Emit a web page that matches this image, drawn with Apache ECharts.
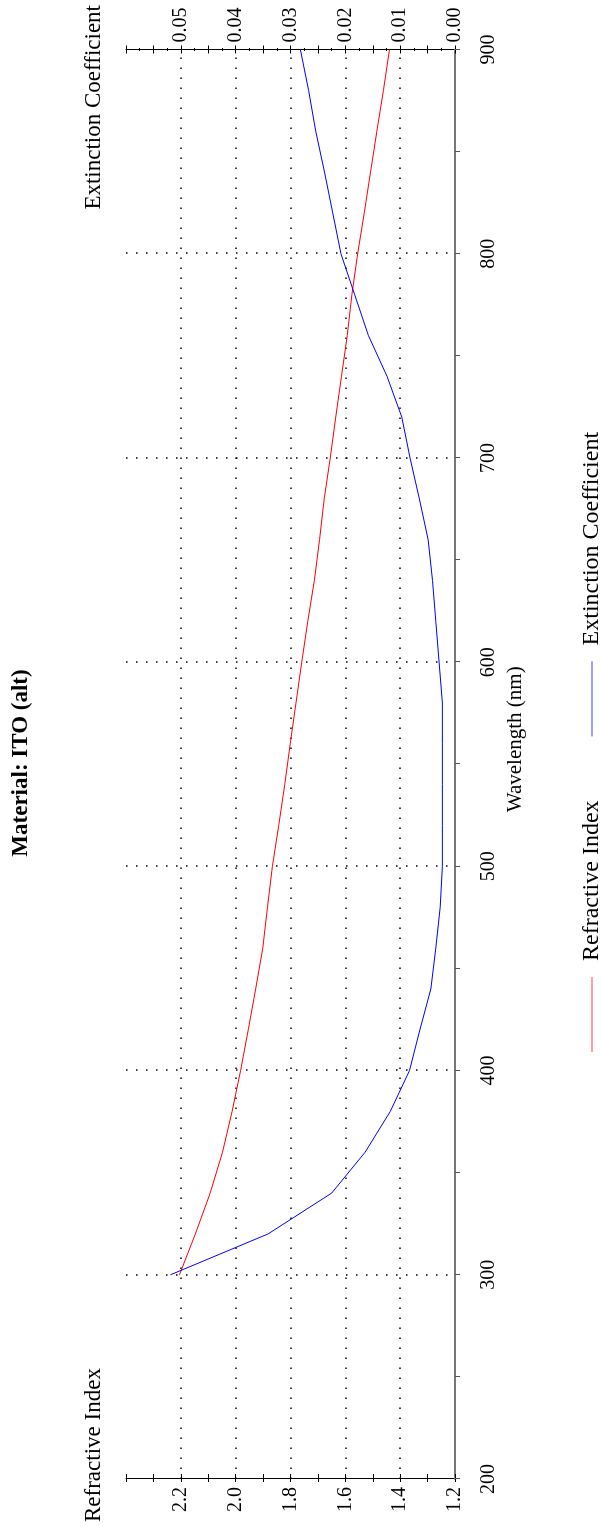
<!DOCTYPE html>
<html>
<head>
<meta charset="utf-8">
<script src="https://cdn.jsdelivr.net/npm/echarts@6/dist/echarts.min.js"></script>
<style>
  html, body { margin: 0; padding: 0; background: #fff; overflow: hidden; }
  #wrap { position: absolute; left: 0; top: 0; width: 601px; height: 1526px; overflow: hidden; }
  #chart { position: absolute; left: 0; top: 0; width: 1526px; height: 601px;
           transform-origin: 0 0; transform: rotate(-90deg) translateX(-1526px); }
</style>
</head>
<body>
<div id="wrap"><div id="chart"></div></div>
<script>
// ---- data ----
const wavelengths = [300, 320, 340, 360, 380, 400, 420, 440, 460, 480, 500, 520, 540, 560, 580,
                     600, 620, 640, 660, 680, 700, 720, 740, 760, 780, 800, 820, 840, 860, 880, 900];
const refractiveIndex = [2.205, 2.147, 2.093, 2.048, 2.013, 1.982, 1.954, 1.927, 1.901, 1.884, 1.866,
                         1.843, 1.821, 1.801, 1.780, 1.759, 1.737, 1.713, 1.694, 1.677, 1.655, 1.635,
                         1.614, 1.593, 1.576, 1.555, 1.531, 1.508, 1.485, 1.461, 1.439];
const extinctionCoeff = [0.0519, 0.0341, 0.0225, 0.0164, 0.0118, 0.0083, 0.0064, 0.0044, 0.0035, 0.0027,
                         0.0023, 0.0023, 0.0023, 0.0023, 0.0023, 0.0029, 0.0035, 0.0041, 0.0049, 0.0065,
                         0.0082, 0.0097, 0.0124, 0.0158, 0.0183, 0.0208, 0.0223, 0.0238, 0.0254, 0.0267, 0.0282];
const seriesNames = ['Refractive Index', 'Extinction Coefficient'];
const wavelengthRange = [200, 900];
const refractiveRange = [1.2, 2.4];
const extinctionRange = [0, 0.06];

const FONT = "'Liberation Serif', 'Times New Roman', serif";
const refData = wavelengths.map((w, i) => [w, refractiveIndex[i]]);
const extData = wavelengths.map((w, i) => [w, extinctionCoeff[i]]);

const chart = echarts.init(document.getElementById('chart'), null, { width: 1526, height: 601, renderer: 'canvas' });

const dotted = { type: [1.5, 8.5], color: '#000', width: 1.5 };

const option = {
  animation: false,
  backgroundColor: '#fff',
  title: [
    { text: 'Material: ITO (alt)', left: 'center', top: 10, padding: 0,
      textStyle: { fontFamily: FONT, fontWeight: 'bold', fontSize: 23, color: '#000' } },
    { text: 'Refractive Index', left: 4, top: 82, padding: 0,
      textStyle: { fontFamily: FONT, fontWeight: 'normal', fontSize: 23, color: '#000' } },
    { text: 'Extinction Coefficient', right: 5, top: 82, padding: 0,
      textStyle: { fontFamily: FONT, fontWeight: 'normal', fontSize: 23, color: '#000' } }
  ],
  legend: {
    left: 469, top: 575, icon: 'rect', itemWidth: 75, itemHeight: 1.5, itemGap: 64,
    textStyle: { fontFamily: FONT, fontSize: 24, color: '#000', padding: [0, 0, 0, 11] },
    data: [
      { name: seriesNames[0], itemStyle: { color: '#ff7f7f' } },
      { name: seriesNames[1], itemStyle: { color: '#7f7fff' } }
    ]
  },
  grid: { left: 47, right: 49.5, top: 126, height: 329, containLabel: false },
  xAxis: {
    type: 'value', min: wavelengthRange[0], max: wavelengthRange[1], interval: 100,
    name: 'Wavelength (nm)', nameLocation: 'middle', nameGap: 50,
    nameTextStyle: { fontFamily: FONT, fontSize: 21, color: '#000', padding: [0, 0, 0, 50] },
    axisLine: { show: true, onZero: false, lineStyle: { color: '#777', width: 2 } },
    axisTick: { show: true, length: 5, lineStyle: { color: '#555' } },
    minorTick: { show: true, splitNumber: 2, length: 5, lineStyle: { color: '#555' } },
    axisLabel: { fontFamily: FONT, fontSize: 20, color: '#000', margin: 24 },
    splitLine: { show: true, showMinLine: false, showMaxLine: false, lineStyle: dotted }
  },
  yAxis: [
    { // refractive index, labels + outward ticks
      type: 'value', position: 'left', min: refractiveRange[0], max: refractiveRange[1], interval: 0.2,
      axisLine: { show: true, lineStyle: { color: '#000', width: 1 } },
      axisTick: { show: true, length: 3, lineStyle: { color: '#000' } },
      minorTick: { show: true, splitNumber: 2, length: 3, lineStyle: { color: '#000' } },
      axisLabel: { fontFamily: FONT, fontSize: 20, color: '#000', margin: 8, showMaxLabel: false,
                   formatter: v => v.toFixed(1) },
      splitLine: { show: true, showMinLine: false, showMaxLine: false, lineStyle: dotted }
    },
    { // refractive index, inward ticks
      type: 'value', position: 'left', min: refractiveRange[0], max: refractiveRange[1], interval: 0.2,
      axisLine: { show: false },
      axisTick: { show: true, inside: true, length: 5, lineStyle: { color: '#000' } },
      minorTick: { show: true, splitNumber: 2, length: 5, lineStyle: { color: '#000' } },
      axisLabel: { show: false }, splitLine: { show: false }
    },
    { // extinction coefficient, labels + outward ticks
      type: 'value', position: 'right', min: extinctionRange[0], max: extinctionRange[1], interval: 0.005,
      axisLine: { show: true, lineStyle: { color: '#000', width: 1 } },
      axisTick: { show: true, length: 4, lineStyle: { color: '#000' } },
      minorTick: { show: true, splitNumber: 2, length: 1.5, lineStyle: { color: '#000' } },
      axisLabel: { fontFamily: FONT, fontSize: 20, color: '#000', margin: 7, showMaxLabel: false,
                   formatter: v => (Math.round(v * 1000) % 10 === 0 && v < 0.0595) ? v.toFixed(2) : '' },
      splitLine: { show: false }
    },
    { // extinction coefficient, inward ticks
      type: 'value', position: 'right', min: extinctionRange[0], max: extinctionRange[1], interval: 0.005,
      axisLine: { show: false },
      axisTick: { show: true, inside: true, length: 4, lineStyle: { color: '#000' } },
      minorTick: { show: true, splitNumber: 2, length: 1.5, lineStyle: { color: '#000' } },
      axisLabel: { show: false }, splitLine: { show: false }
    }
  ],
  series: [
    { name: seriesNames[0], type: 'line', yAxisIndex: 0, data: refData, showSymbol: false, symbol: 'none',
      lineStyle: { color: '#ff0000', width: 1 }, itemStyle: { color: '#ff0000' }, z: 3 },
    { name: seriesNames[1], type: 'line', yAxisIndex: 2, data: extData, showSymbol: false, symbol: 'none',
      lineStyle: { color: '#0000ff', width: 1 }, itemStyle: { color: '#0000ff' }, z: 3 }
  ]
};
chart.setOption(option);
</script>
</body>
</html>
